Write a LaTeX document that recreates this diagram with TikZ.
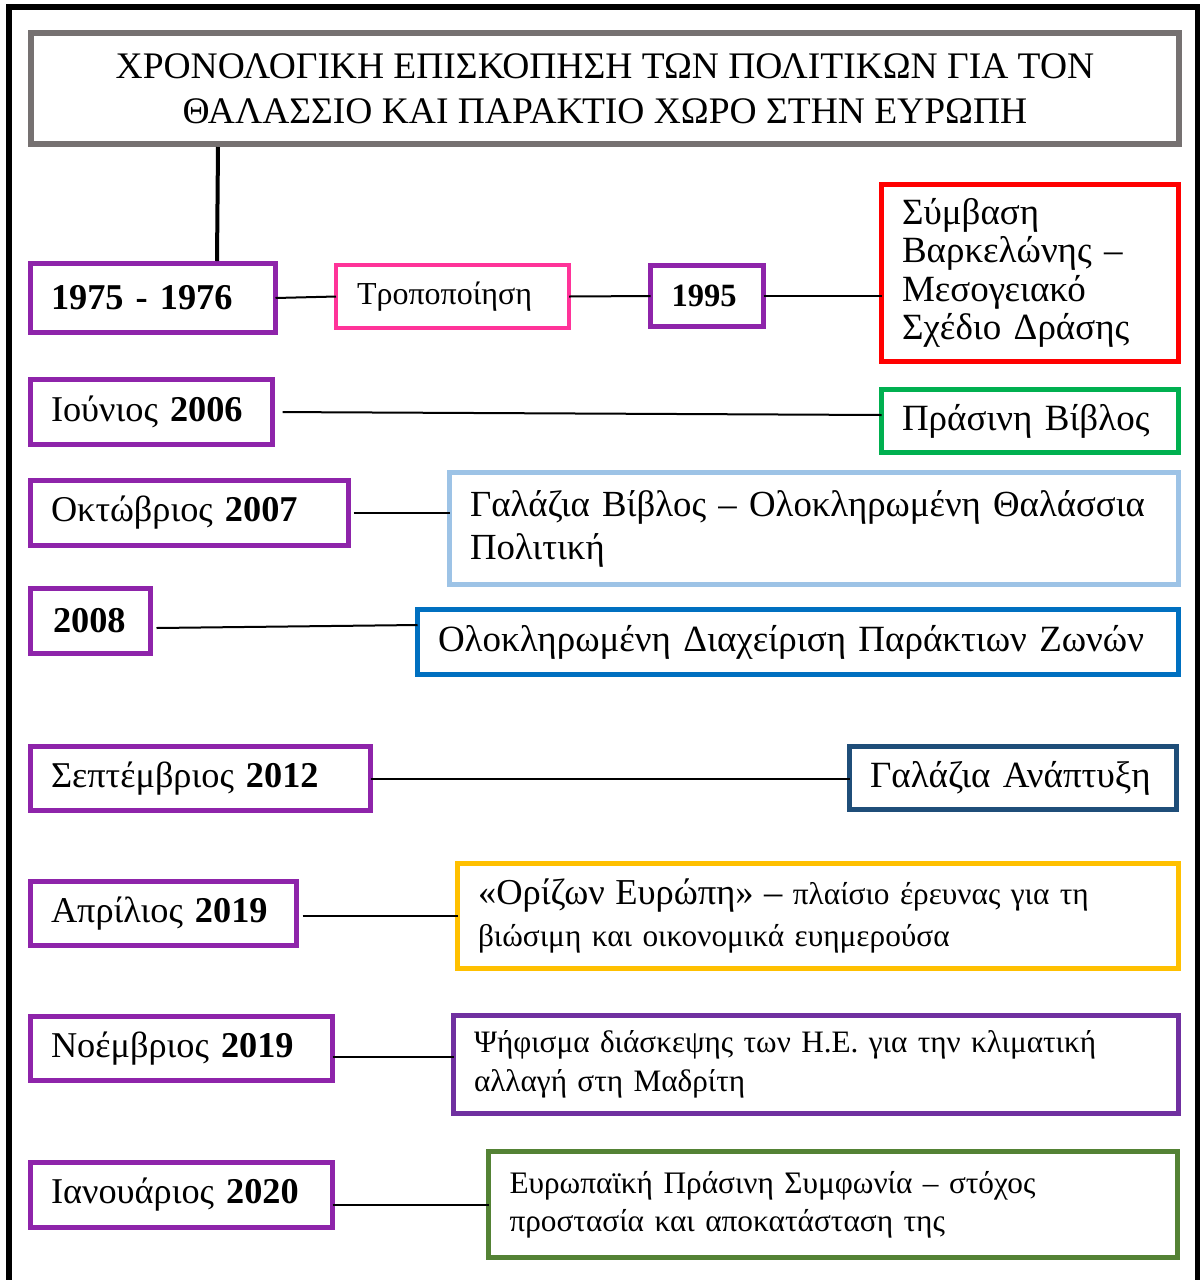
\documentclass[tikz,border=0pt]{standalone}
\usepackage{fontspec}
\setmainfont{Liberation Serif}
\usetikzlibrary{calc}
\definecolor{dpurple}{RGB}{142,36,170}
\definecolor{tgray}{RGB}{118,113,113}
\definecolor{pinkc}{RGB}{255,51,153}
\definecolor{redc}{RGB}{255,0,0}
\definecolor{greenc}{RGB}{0,176,80}
\definecolor{lblue}{RGB}{157,195,230}
\definecolor{bluec}{RGB}{0,112,192}
\definecolor{dblue}{RGB}{31,78,121}
\definecolor{yellowc}{RGB}{255,192,0}
\definecolor{purplec}{RGB}{112,48,160}
\definecolor{dgreen}{RGB}{84,130,53}
\tikzset{
  box/.style={draw, line width=5bp, anchor=north west, outer sep=0pt, inner xsep=20.5bp, inner ysep=0pt, align=left},
  datebox/.style={box, draw=dpurple, font=\fontsize{36.3bp}{43bp}\selectfont},
  bigtext/.style={font=\fontsize{37bp}{38.5bp}\selectfont},
  smalltext/.style={font=\fontsize{31.3bp}{38bp}\selectfont},
  conn/.style={draw=black, line width=2bp},
}
\begin{document}
\begin{tikzpicture}[x=1bp,y=-1bp]
\useasboundingbox (0,0) rectangle (1200,1280);
\begin{scope}
\clip (0,0) rectangle (1200,1280);
\draw[line width=6bp] (9,7) rectangle (1198,1300);
\end{scope}
% title
\node[draw=tgray, line width=6bp, anchor=north west, outer sep=0pt, minimum width=1148bp, minimum height=111bp, inner sep=0pt, align=center, font=\fontsize{37.5bp}{45bp}\selectfont] (title) at (31,33)
  {ΧΡΟΝΟΛΟΓΙΚΗ ΕΠΙΣΚΟΠΗΣΗ ΤΩΝ ΠΟΛΙΤΙΚΩΝ ΓΙΑ ΤΟΝ\\ΘΑΛΑΣΣΙΟ ΚΑΙ ΠΑΡΑΚΤΙΟ ΧΩΡΟ ΣΤΗΝ ΕΥΡΩΠΗ};
% row 1
\node[datebox, text width=204bp, minimum height=69bp] (d1) at (30.5,263.5) {\textbf{1975 - 1976}};
\node[box, draw=pinkc, line width=4bp, text width=191bp, inner xsep=21bp, minimum height=63bp, font=\fontsize{32bp}{36bp}\selectfont] (pink) at (336,265) {Τροποποίηση};
\node[datebox, text width=71bp, inner xsep=21bp, minimum height=61bp, font=\fontsize{32.5bp}{36bp}\bfseries] (y95) at (650.5,265.5) {1995};
\node[box, draw=redc, text width=256bp, minimum height=177bp, bigtext] (red) at (881.5,184.5) {Σύμβαση\\Βαρκελώνης –\\Μεσογειακό\\Σχέδιο Δράσης};
% row 2
\node[datebox, text width=201bp, minimum height=65bp] (d2) at (30.5,379.5) {Ιούνιος \textbf{2006}};
\node[box, draw=greenc, text width=256bp, minimum height=63bp, bigtext] (gr) at (881.5,389.5) {Πράσινη Βίβλος};
% row 3
\node[datebox, text width=277bp, minimum height=65bp] (d3) at (30.5,480.5) {Οκτώβριος \textbf{2007}};
\node[box, draw=lblue, text width=688bp, minimum height=112bp, font=\fontsize{36.8bp}{43bp}\selectfont] (lb) at (449.5,472.5) {Γαλάζια Βίβλος – Ολοκληρωμένη Θαλάσσια\\Πολιτική};
% row 4
\node[datebox, text width=75bp, inner xsep=22.5bp, minimum height=65bp] (d4) at (30.5,588.5) {\textbf{2008}};
\node[box, draw=bluec, text width=720bp, minimum height=65bp, bigtext] (bl) at (417.5,609.5) {Ολοκληρωμένη Διαχείριση Παράκτιων Ζωνών};
% row 5
\node[datebox, text width=299bp, minimum height=64bp] (d5) at (30.5,746.5) {Σεπτέμβριος \textbf{2012}};
\node[box, draw=dblue, text width=286bp, minimum height=63bp, bigtext] (db) at (849.5,746.5) {Γαλάζια Ανάπτυξη};
% row 6
\node[datebox, text width=225bp, minimum height=64bp] (d6) at (30.5,881.5) {Απρίλιος \textbf{2019}};
\node[box, draw=yellowc, text width=680bp, minimum height=105bp, font=\fontsize{31.3bp}{42bp}\selectfont] (yl) at (457.5,863.5) {{\fontsize{36.5bp}{42bp}\selectfont «Ορίζων Ευρώπη» –} πλαίσιο έρευνας για τη\\βιώσιμη και οικονομικά ευημερούσα};
% row 7
\node[datebox, text width=261bp, minimum height=64bp] (d7) at (30.5,1016.5) {Νοέμβριος \textbf{2019}};
\node[box, draw=purplec, text width=684bp, minimum height=98bp, font=\fontsize{31.2bp}{39bp}\selectfont] (pp) at (453.5,1015.5) {Ψήφισμα διάσκεψης των Η.Ε. για την κλιματική\\αλλαγή στη Μαδρίτη};
% row 8
\node[datebox, text width=261bp, minimum height=65bp] (d8) at (30.5,1162.5) {Ιανουάριος \textbf{2020}};
\node[box, draw=dgreen, text width=647bp, inner xsep=21bp, minimum height=106bp, smalltext] (gn) at (488.5,1151.5) {Ευρωπαϊκή Πράσινη Συμφωνία – στόχος\\προστασία και αποκατάσταση της};
% connectors
\draw[conn, line width=4bp] ($(title.south west)+(187,3)$) -- ($(d1.north west)+(186.5,-2.5)$);
\draw[conn] (d1.east) -- (pink.west);
\draw[conn] (pink.east) -- (y95.west);
\draw[conn] (y95.east) -- (y95.east -| red.west);
\draw[conn, shorten <=10bp] (d2.east) -- ($(gr.west)+(0,-6)$);
\draw[conn, shorten <=5bp] (d3.east) -- (d3.east -| lb.west);
\draw[conn] ($(d4.east)+(6,7)$) -- ($(bl.west)+(0,-17)$);
\draw[conn] (d5.east) -- (d5.east -| db.west);
\draw[conn, shorten <=6bp] (yl.west -| d6.east) -- (yl.west);
\draw[conn] ($(d7.east)+(0,8.5)$) coordinate (c7) -- (c7 -| pp.west);
\draw[conn] (gn.west -| d8.east) -- (gn.west);
\end{tikzpicture}
\end{document}
